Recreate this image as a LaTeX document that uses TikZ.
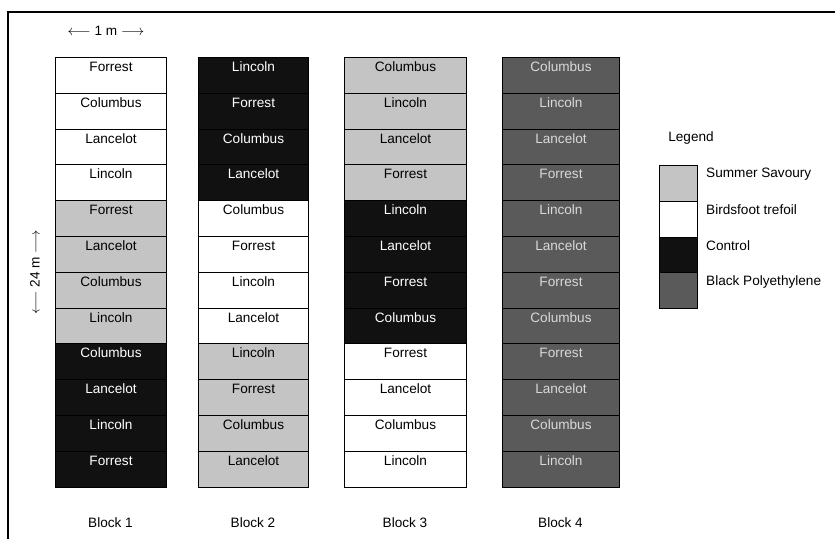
\documentclass[tikz,border=0pt]{standalone}
\usepackage{fontspec}
\setmainfont{Liberation Sans}
\usetikzlibrary{positioning}

\definecolor{savourygray}{HTML}{C4C4C4}
\definecolor{controlblack}{HTML}{111111}
\definecolor{polygray}{HTML}{5A5A5A}

\tikzset{
  plot/.style={draw=black, line width=1pt, inner sep=0pt, anchor=north west,
    minimum height=35.8pt, text height=14pt, text depth=21.8pt,
    font=\fontsize{13.6}{15}\selectfont},
  savoury/.style={plot, fill=savourygray},
  trefoil/.style={plot, fill=white},
  control/.style={plot, fill=controlblack, text=white},
  poly/.style={plot, fill=polygray, text=black!15},
  lbl/.style={font=\fontsize{13.6}{15}\selectfont, inner sep=0pt},
}

\begin{document}
\begin{tikzpicture}[x=1pt, y=-1pt]

\useasboundingbox (0,0) rectangle (835,538);

% Cadre exterieur (coupe a droite et en bas)
\draw[line width=1.1pt] (8,560) -- (8,12) -- (860,12);

% Echelles
\node[lbl] (width) at (106,31) {$\longleftarrow$ 1 m $\longrightarrow$};
\node[lbl, rotate=90] (length) at (35,272) {$\longleftarrow$ 24 m $\longrightarrow$};

% Bloc 1
\foreach \name/\kind [count=\i] in {Forrest/trefoil, Columbus/trefoil, Lancelot/trefoil, Lincoln/trefoil,
    Forrest/savoury, Lancelot/savoury, Columbus/savoury, Lincoln/savoury,
    Columbus/control, Lancelot/control, Lincoln/control, Forrest/control}
  \node[\kind, minimum width=111pt] (b1r\i) at (55,{57+(\i-1)*35.8}) {\name};

% Bloc 2
\foreach \name/\kind [count=\i] in {Lincoln/control, Forrest/control, Columbus/control, Lancelot/control,
    Columbus/trefoil, Forrest/trefoil, Lincoln/trefoil, Lancelot/trefoil,
    Lincoln/savoury, Forrest/savoury, Columbus/savoury, Lancelot/savoury}
  \node[\kind, minimum width=110pt] (b2r\i) at (198,{57+(\i-1)*35.8}) {\name};

% Bloc 3
\foreach \name/\kind [count=\i] in {Columbus/savoury, Lincoln/savoury, Lancelot/savoury, Forrest/savoury,
    Lincoln/control, Lancelot/control, Forrest/control, Columbus/control,
    Forrest/trefoil, Lancelot/trefoil, Columbus/trefoil, Lincoln/trefoil}
  \node[\kind, minimum width=122pt] (b3r\i) at (344,{57+(\i-1)*35.8}) {\name};

% Bloc 4
\foreach \name [count=\i] in {Columbus, Lincoln, Lancelot, Forrest, Lincoln, Lancelot,
    Forrest, Columbus, Forrest, Lancelot, Columbus, Lincoln}
  \node[poly, minimum width=117pt] (b4r\i) at (502,{57+(\i-1)*35.8}) {\name};

% Noms des blocs
\node[lbl] (block1) at (110.5,523) {Block 1};
\node[lbl] (block2) at (253,523) {Block 2};
\node[lbl] (block3) at (405,523) {Block 3};
\node[lbl] (block4) at (560.5,523) {Block 4};

% Legende
\node[lbl] (legend) at (691,138) {Legend};
\node[savoury, minimum width=38pt] (key1) at (659,165) {};
\node[trefoil, minimum width=38pt] (key2) at (659,200.8) {};
\node[control, minimum width=38pt] (key3) at (659,236.6) {};
\node[poly, minimum width=38pt] (key4) at (659,272.4) {};
\node[lbl, anchor=west] (text1) at (706,174) {Summer Savoury};
\node[lbl, anchor=west] (text2) at (706,210) {Birdsfoot trefoil};
\node[lbl, anchor=west] (text3) at (706,246) {Control};
\node[lbl, anchor=west] (text4) at (706,282) {Black Polyethylene};

\end{tikzpicture}
\end{document}
